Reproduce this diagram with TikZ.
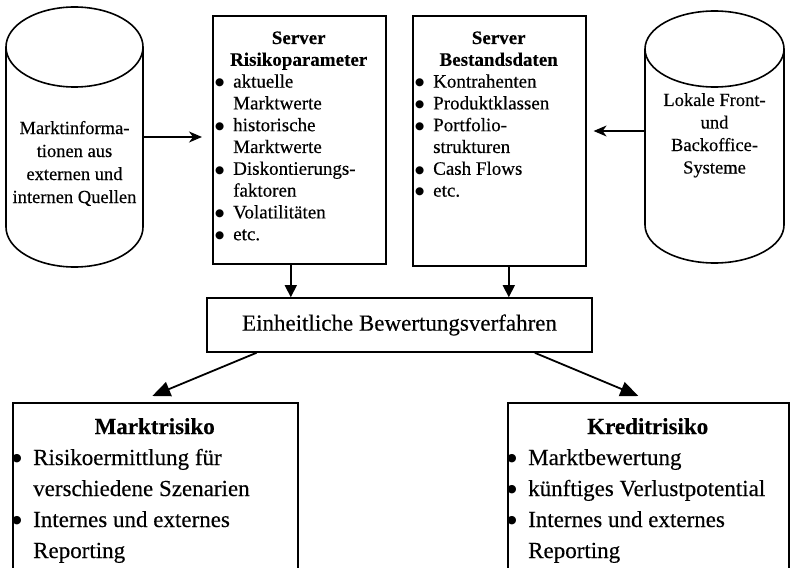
\documentclass[tikz,border=0pt]{standalone}
\usepackage{fontspec}
\setmainfont{Liberation Serif}[FakeBold=0.3]
\newfontfamily\symf{DejaVu Sans}
\usetikzlibrary{arrows.meta,calc}
\newcommand{\dotA}{$\vcenter{\hbox{\symf\fontsize{10.5}{10.5}\selectfont ●}}$}
\newcommand{\dotB}{$\vcenter{\hbox{\symf\fontsize{11}{11}\selectfont ●}}$}
\newcommand{\blA}{\makebox[18pt][l]{\dotA}}
\newcommand{\inA}{\hspace*{18pt}}
\newcommand{\blB}{\makebox[20pt][l]{\hspace{-1pt}\dotB}}
\newcommand{\inB}{\hspace*{20pt}}
\begin{document}
\begin{tikzpicture}[x=1pt,y=-1pt]
\tikzset{
  boxframe/.style={draw, line width=1.6pt, inner sep=0pt, anchor=north west},
  holder/.style={inner sep=0pt},
  txt/.style={anchor=base west, inner sep=0pt},
  cylline/.style={line width=1.6pt},
  harrow/.style={-{Stealth[length=13pt,width=11pt,inset=4pt]}, line width=1.5pt},
  darrow/.style={-{Triangle[length=12pt,width=12pt]}, line width=1.5pt},
  barrow/.style={-{Triangle[length=18pt,width=15pt]}, line width=1.8pt}
}
\useasboundingbox (0,0) rectangle (791,567);
\clip (0,0) rectangle (791,567);
\fill[white] (0,0) rectangle (791,567);

% left cylinder
\node[holder, minimum width=137pt, minimum height=260pt] (lc) at (74.5,137) {};
\draw[cylline] (74.5,47) ellipse [x radius=68.5pt, y radius=40pt];
\draw[cylline] (6,47) -- (6,227) arc[start angle=180, end angle=360, x radius=68.5pt, y radius=40pt] -- (143,47);
\node[txt, anchor=base] (lct) at (74.5,134) {\parbox[t]{136pt}{\centering\fontsize{18.5}{23}\selectfont Marktinforma-\\tionen aus\\externen und\\internen Quellen}};

% right cylinder
\node[holder, minimum width=139pt, minimum height=252pt] (rc) at (714.5,137) {};
\draw[cylline] (714.5,49) ellipse [x radius=69.5pt, y radius=38pt];
\draw[cylline] (645,49) -- (645,225) arc[start angle=180, end angle=360, x radius=69.5pt, y radius=38pt] -- (784,49);
\node[txt, anchor=base] (rct) at (714.5,106) {\parbox[t]{136pt}{\centering\fontsize{18.5}{22.5}\selectfont Lokale Front-\\und\\Backoffice-\\Systeme}};
\coordinate (rcout) at ([yshift=6pt]rc.west);

% server boxes
\node[boxframe, minimum width=173pt, minimum height=248pt] (rp) at (212,15) {};
\node[txt] (rpt) at (215,44) {\parbox[t]{167pt}{\fontsize{19}{21.8}\selectfont
{\centering\bfseries Server\\Risikoparameter\par}
\raggedright
\blA aktuelle\\
\inA Marktwerte\\
\blA historische\\
\inA Marktwerte\\
\blA Diskontierungs-\\
\inA faktoren\\
\blA Volatilitäten\\
\blA etc.}};

\node[boxframe, minimum width=173pt, minimum height=250pt] (bd) at (412,15) {};
\node[txt] (bdt) at (415,44) {\parbox[t]{167pt}{\fontsize{19}{21.8}\selectfont
{\centering\bfseries Server\\Bestandsdaten\par}
\raggedright
\blA Kontrahenten\\
\blA Produktklassen\\
\blA Portfolio-\\
\inA strukturen\\
\blA Cash Flows\\
\blA etc.}};

% unified valuation
\node[draw, line width=1.6pt, minimum width=385pt, minimum height=54pt, inner sep=0pt, font=\fontsize{23}{27}\selectfont] (ev) at (399.5,325) {Einheitliche Bewertungsverfahren};

% bottom boxes
\node[boxframe, minimum width=285pt, minimum height=180pt] (mr) at (12,402) {};
\node[txt] (mrt) at (13,434) {\parbox[t]{283pt}{\fontsize{23}{31}\selectfont
{\centering\bfseries Marktrisiko\par}
\raggedright
\blB Risikoermittlung für\\
\inB verschiedene Szenarien\\
\blB Internes und externes\\
\inB Reporting}};

\node[boxframe, minimum width=281pt, minimum height=180pt] (kr) at (507,402) {};
\node[txt] (krt) at (508,434) {\parbox[t]{279pt}{\fontsize{23}{31}\selectfont
{\centering\bfseries Kreditrisiko\par}
\raggedright
\blB Marktbewertung\\
\blB künftiges Verlustpotential\\
\blB Internes und externes\\
\inB Reporting}};

% connectors
\draw[harrow, shorten >=10pt] (lc.east) -- (rp.west |- lc.east);
\draw[harrow, shorten >=7pt] (rcout) -- (bd.east |- rcout);
\draw[darrow] ([xshift=-8.5pt]rp.south) -- ([xshift=-8.5pt]rp.south |- ev.north);
\draw[darrow] ([xshift=9.5pt]bd.south) -- ([xshift=9.5pt]bd.south |- ev.north);
\draw[barrow] ($(ev.south west)!0.13!(ev.south east)$) -- ($(mr.north)+(-3,-6)$);
\draw[barrow] ($(ev.south west)!0.85!(ev.south east)$) -- ($(kr.north)+(-10,-6)$);
\end{tikzpicture}
\end{document}
